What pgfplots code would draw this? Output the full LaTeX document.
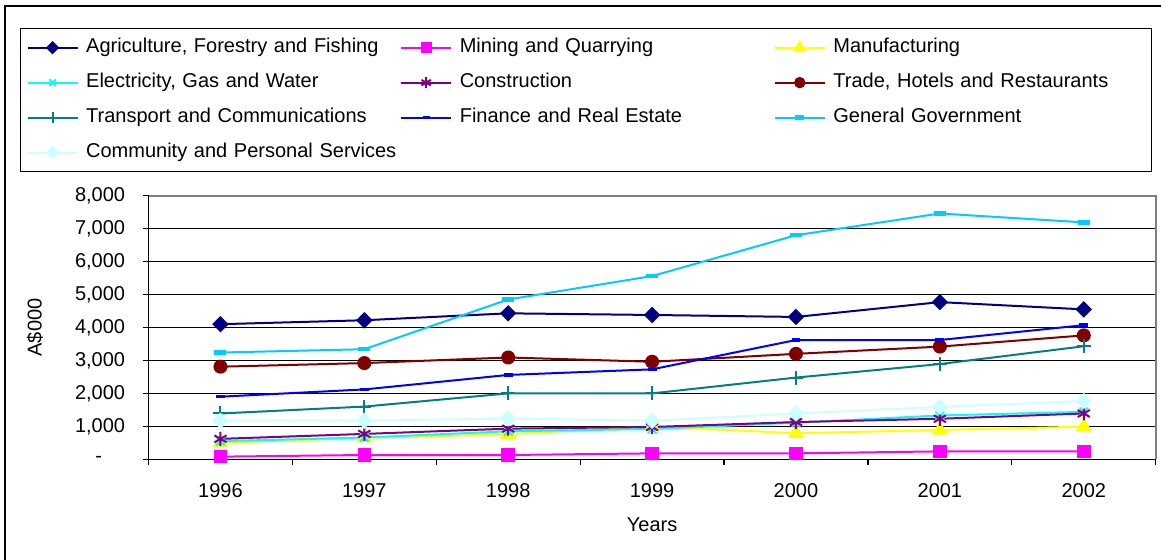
\documentclass[border=0pt]{standalone}
\usepackage{pgfplots}
\pgfplotsset{compat=1.18}
\usepackage{fontspec}
\setmainfont{Liberation Sans}
\definecolor{cAgr}{HTML}{000080}
\definecolor{cMin}{HTML}{FF00FF}
\definecolor{cMan}{HTML}{FFFF00}
\definecolor{cEle}{HTML}{00FFFF}
\definecolor{cCon}{HTML}{800080}
\definecolor{cTra}{HTML}{800000}
\definecolor{cTrn}{HTML}{008080}
\definecolor{cFin}{HTML}{0000FF}
\definecolor{cGov}{HTML}{00CCFF}
\definecolor{cCom}{HTML}{CCFFFF}
\begin{document}
\begin{tikzpicture}
\path[use as bounding box] (0,0) rectangle (580.5pt,280pt);
\draw[line width=1pt] (2.3pt,-10pt) -- (2.3pt,277.15pt) -- (600pt,277.15pt);
\begin{axis}[
  at={(74.25pt,50.35pt)}, anchor=south west,
  scale only axis, width=503.6pt, height=131.8pt,
  xmin=-0.5, xmax=6.5, ymin=0, ymax=8000,
  axis x line*=bottom, axis y line*=left,
  axis line style={black, line width=0.6pt},
  xtick={-0.5,0.5,...,6.5}, xticklabels={},
  extra x ticks={0,1,2,3,4,5,6},
  extra x tick labels={1996,1997,1998,1999,2000,2001,2002},
  extra x tick style={major tick length=0pt, grid=none},
  ytick={0,1000,...,8000},
  yticklabels={{-\rule{11.5pt}{0pt}},{1,000},{2,000},{3,000},{4,000},{5,000},{6,000},{7,000},{8,000}},
  tick align=outside, major tick length=3pt,
  tick style={black, line width=0.6pt},
  ymajorgrids, major grid style={black, line width=0.5pt},
  xticklabel style={anchor=center, yshift=-15.9pt},
  yticklabel style={anchor=east, inner sep=0pt, xshift=-8.5pt},
  ticklabel style={font=\fontsize{10}{12}\selectfont},
  xlabel={Years}, ylabel={A\$000},
  label style={font=\fontsize{10}{12}\selectfont},
  x label style={at={(axis description cs:0.5,-0.249)}, anchor=center},
  y label style={at={(axis description cs:-0.1127,0.5)}, anchor=center},
  clip=false,
  legend columns=3,
  legend cell align=left,
  legend image code/.code={\draw[mark repeat=2,mark phase=2,every mark/.append style={scale=0.78}] plot coordinates {(0pt,0pt) (12.5pt,0pt) (25pt,0pt)};},
  legend style={at={(rel axis cs:-0.1276,1.636)}, anchor=north west,
    draw=black, line width=0.6pt, inner xsep=3pt, inner ysep=4.5pt,
    font=\fontsize{10}{12}\selectfont, row sep=7.5pt, column sep=0pt,
    nodes={inner sep=0pt, text height=7.5pt, text depth=2.5pt, text width=153pt},
    /tikz/every odd column/.append style={column sep=3.8pt},
    /tikz/every even column/.append style={column sep=4pt},
    /tikz/column 6/.append style={nodes={text width=156pt}}},
]
\addplot[color=cAgr, line width=1pt, mark=square*, mark size=2.4pt, mark options={rotate=45, solid}]
  coordinates {(0,4100) (1,4220) (2,4430) (3,4380) (4,4320) (5,4770) (6,4550)};
\addlegendentry{Agriculture, Forestry and Fishing}
\addplot[color=cMin, line width=1pt, mark=square*, mark size=2.9pt]
  coordinates {(0,80) (1,130) (2,130) (3,180) (4,180) (5,240) (6,240)};
\addlegendentry{Mining and Quarrying}
\addplot[color=cMan, line width=1pt, mark=triangle*, mark size=3.6pt]
  coordinates {(0,500) (1,650) (2,760) (3,1000) (4,790) (5,890) (6,990)};
\addlegendentry{Manufacturing}
\addplot[color=cEle, line width=1pt, mark=x, mark size=3pt]
  coordinates {(0,550) (1,660) (2,850) (3,920) (4,1110) (5,1330) (6,1440)};
\addlegendentry{Electricity, Gas and Water}
\addplot[color=cCon, line width=1pt, mark=asterisk, mark size=3.5pt]
  coordinates {(0,620) (1,770) (2,930) (3,980) (4,1130) (5,1230) (6,1390)};
\addlegendentry{Construction}
\addplot[color=cTra, line width=1pt, mark=*, mark size=3pt]
  coordinates {(0,2810) (1,2920) (2,3090) (3,2960) (4,3200) (5,3420) (6,3760)};
\addlegendentry{Trade, Hotels and Restaurants}
\addplot[color=cTrn, line width=1pt, mark=+, mark size=3.5pt]
  coordinates {(0,1390) (1,1600) (2,2000) (3,2000) (4,2480) (5,2890) (6,3430)};
\addlegendentry{Transport and Communications}
\addplot[color=cFin, line width=1pt, mark=-, mark size=2.2pt, mark options={line width=1.8pt}]
  coordinates {(0,1900) (1,2120) (2,2560) (3,2730) (4,3620) (5,3620) (6,4070)};
\addlegendentry{Finance and Real Estate}
\addplot[color=cGov, line width=1pt, mark=-, mark size=3pt, mark options={line width=2.2pt}]
  coordinates {(0,3240) (1,3340) (2,4850) (3,5560) (4,6800) (5,7460) (6,7190)};
\addlegendentry{General Government}
\addplot[color=cCom, line width=1pt, mark=square*, mark size=2.4pt, mark options={rotate=45}]
  coordinates {(0,1170) (1,1170) (2,1240) (3,1170) (4,1390) (5,1590) (6,1770)};
\addlegendentry{\mbox{Community and Personal Services}}
\draw[gray, line width=1pt] (rel axis cs:0,1) -- (rel axis cs:1,1) -- (rel axis cs:1,0);
\end{axis}
\end{tikzpicture}
\end{document}
